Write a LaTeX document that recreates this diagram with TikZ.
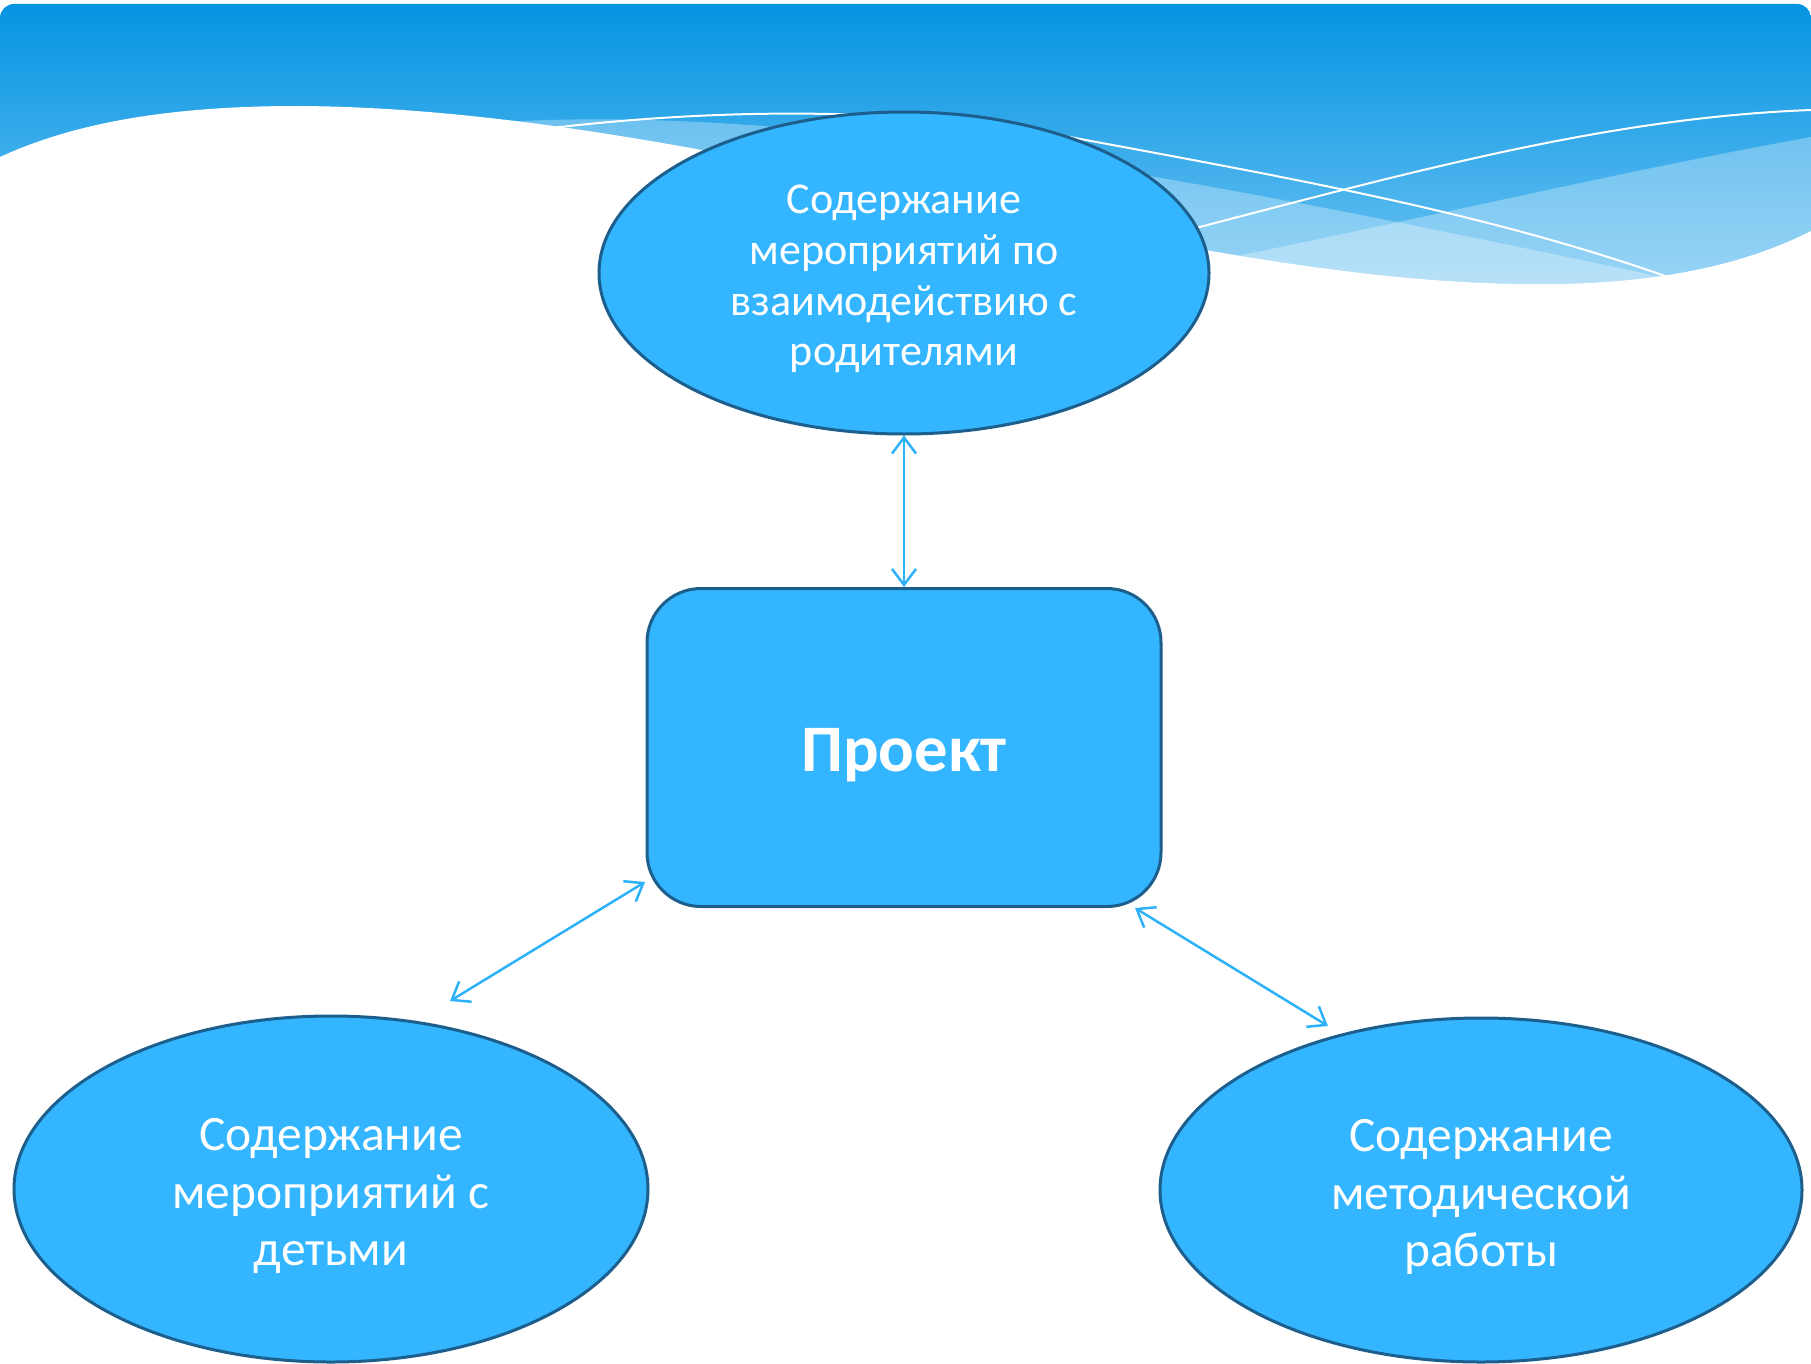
\documentclass[tikz,border=0pt]{standalone}
\usepackage{fontspec}
\setmainfont{Carlito}
\usetikzlibrary{shapes.geometric,arrows.meta}
\definecolor{nodefill}{RGB}{51,181,255}
\definecolor{nodeborder}{RGB}{28,94,140}
\definecolor{arrowblue}{RGB}{45,178,250}
\definecolor{bannertop}{RGB}{5,148,226}
\definecolor{bannerbot}{RGB}{120,200,244}
\tikzset{
  oval/.style={ellipse, draw=nodeborder, line width=3pt, fill=nodefill, inner sep=0pt},
  projbox/.style={rectangle, rounded corners=54pt, draw=nodeborder, line width=3pt, fill=nodefill,
    inner sep=0pt, minimum width=514pt, minimum height=318pt},
  lbl/.style={text=white, align=center, inner sep=0pt},
  conn/.style={arrowblue, line width=2.5pt, {Straight Barb[length=16pt,width=24pt,line width=2.5pt]}-{Straight Barb[length=16pt,width=24pt,line width=2.5pt]}},
  wline/.style={white, line width=2pt},
  band/.style={white, fill opacity=0.3}
}
\begin{document}
\begin{tikzpicture}[x=1pt,y=-1pt]
\useasboundingbox (0,0) rectangle (1811,1364);
\fill[white] (0,0) rectangle (1811,1364);
% banner
\shade[top color=bannertop, bottom color=bannerbot, rounded corners=14pt] (0,320) rectangle (1811,4);
% translucent bands
\fill[band] (460,125) .. controls (800,95) and (1250,190) .. (1700,285) -- (1700,420) -- (460,420) -- cycle;
\fill[band] (1100,283) .. controls (1350,236) and (1600,175) .. (1811,137) -- (1811,420) -- (1100,420) -- cycle;
% thin white lines
\draw[wline] (520,132) .. controls (700,108) and (900,105) .. (1075,138) .. controls (1300,180) and (1500,215) .. (1690,285);
\draw[wline] (1150,240) .. controls (1400,175) and (1600,118) .. (1811,110);
% white wave
\fill[white] (0,157) .. controls (80,120) and (180,106) .. (298,106)
  .. controls (700,108) and (1150,278) .. (1517,284)
  .. controls (1660,287) and (1750,262) .. (1811,231)
  -- (1811,1364) -- (0,1364) -- cycle;
% nodes
\node[oval, minimum width=610pt, minimum height=322pt,
  label={[lbl, yshift=-6pt, font=\fontsize{44}{50.8}\selectfont]center:{Содержание\\мероприятий по\\взаимодействию с\\родителями}}] (top) at (904,273) {};
\node[projbox, label={[lbl, yshift=-8pt, font=\fontsize{66.5}{78}\selectfont\bfseries]center:Проект}] (proj) at (904,747.5) {};
\node[oval, minimum width=634pt, minimum height=346pt,
  label={[lbl, yshift=-7pt, font=\fontsize{49.5}{57.7}\selectfont]center:{Содержание\\мероприятий с\\детьми}}] (kids) at (331,1189) {};
\node[oval, minimum width=642pt, minimum height=344pt,
  label={[lbl, yshift=-7pt, font=\fontsize{49.5}{57.7}\selectfont]center:{Содержание\\методической\\работы}}] (method) at (1481,1190) {};
% connector ends
\coordinate (kidsend) at (450,1001);
\coordinate (projsw) at (645,882);
\coordinate (projse) at (1135,908);
\coordinate (methodend) at (1328,1026);
\draw[conn] (top.south) -- (proj.north);
\draw[conn] (kidsend) -- (projsw);
\draw[conn] (projse) -- (methodend);
\end{tikzpicture}
\end{document}
